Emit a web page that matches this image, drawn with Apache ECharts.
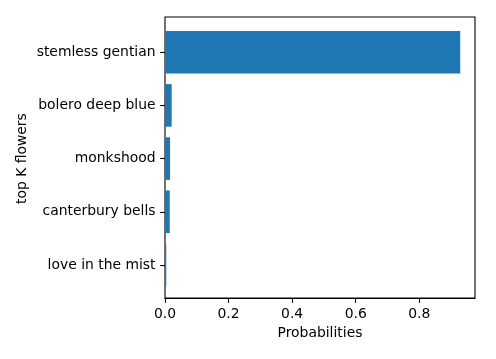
<!DOCTYPE html>
<html>
<head>
<meta charset="utf-8">
<script src="https://cdn.jsdelivr.net/npm/echarts@6/dist/echarts.min.js"></script>
<style>html,body{margin:0;padding:0;background:#fff}#c{width:496px;height:359px}</style>
</head>
<body>
<div id="c"></div>
<script>
var categories = ['stemless gentian', 'bolero deep blue', 'monkshood', 'canterbury bells', 'love in the mist'];
var probabilities = [0.929, 0.021, 0.016, 0.015, 0.004];
var xTicks = [0.0, 0.2, 0.4, 0.6, 0.8];
var xMax = 0.9755;

var font = 'DejaVu Sans';
var fs = 13.9;
var chart = echarts.init(document.getElementById('c'), null, {renderer: 'canvas'});
chart.setOption({
  animation: false,
  textStyle: {fontFamily: font},
  grid: [
    {left: 165, right: 21, top: 17, bottom: 61, show: true, borderColor: '#000', borderWidth: 1.1, backgroundColor: 'transparent'},
    {left: 165, right: 21, top: 25.6, height: 266}
  ],
  xAxis: [
    {
      type: 'value', gridIndex: 0, min: 0, max: xMax,
      name: 'Probabilities', nameLocation: 'middle', nameGap: 28,
      nameTextStyle: {color: '#000', fontSize: fs, fontFamily: font},
      axisLine: {show: true, lineStyle: {color: '#000', width: 1.1}},
      axisTick: {show: true, length: 4.9, customValues: xTicks, lineStyle: {color: '#000', width: 1.1}},
      axisLabel: {color: '#000', fontSize: fs, fontFamily: font, margin: 9.5, customValues: xTicks,
        formatter: function (v) { return v.toFixed(1); }},
      splitLine: {show: false}
    },
    {
      type: 'value', gridIndex: 1, min: 0, max: xMax, show: false
    }
  ],
  yAxis: [
    {
      type: 'value', gridIndex: 0, show: false, min: 0, max: 1
    },
    {
      type: 'category', gridIndex: 1, data: categories, inverse: true,
      name: 'top K flowers', nameLocation: 'middle', nameRotate: 90, nameGap: 136,
      nameMoveOverlap: false,
      nameTextStyle: {color: '#000', fontSize: fs, fontFamily: font},
      axisLine: {show: false},
      axisTick: {show: true, alignWithLabel: true, length: 4.9, lineStyle: {color: '#000', width: 1.1}},
      axisLabel: {color: '#000', fontSize: fs, fontFamily: font, margin: 9.5},
      splitLine: {show: false}
    }
  ],
  series: [{
    type: 'bar', xAxisIndex: 1, yAxisIndex: 1,
    data: probabilities,
    barCategoryGap: '20%',
    itemStyle: {color: '#1f77b4'}
  }]
});
</script>
</body>
</html>
